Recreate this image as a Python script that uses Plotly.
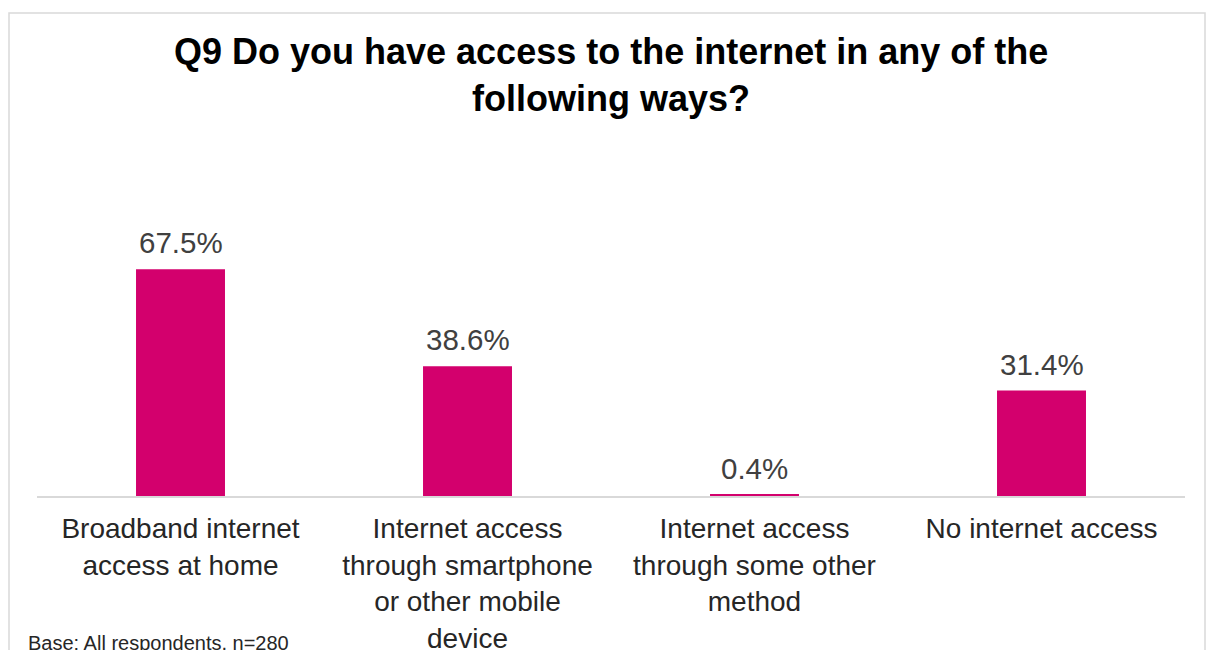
import plotly.graph_objects as go

categories = [
    "Broadband internet<br>access at home",
    "Internet access<br>through smartphone<br>or other mobile<br>device",
    "Internet access<br>through some other<br>method",
    "No internet access",
]
values = [67.5, 38.6, 0.4, 31.4]
value_labels = ["67.5%", "38.6%", "0.4%", "31.4%"]

BAR = "#D3006D"
FONT = "Liberation Sans, Arial, sans-serif"
W, H = 1208, 650
L, R, T, B = 37, 23, 160, 154
pw = W - L - R
ph = H - T - B

def px_x(px):
    return (px - L) / pw

def px_y(py):
    return (H - B - py) / ph

fig = go.Figure(
    go.Bar(
        x=categories,
        y=values,
        marker=dict(color=BAR, line=dict(width=0)),
        width=0.31,
        cliponaxis=False,
        hoverinfo="skip",
    )
)

annotations = [
    dict(
        x=c,
        y=v,
        xref="x",
        yref="y",
        text=t,
        showarrow=False,
        xanchor="center",
        yanchor="bottom",
        yshift=8,
        font=dict(family=FONT, size=29.5, color="#404040"),
    )
    for c, v, t in zip(categories, values, value_labels)
]

annotations += [
    dict(
        text="<b>Q9 Do you have access to the internet in any of the<br>following ways?</b>",
        xref="paper",
        yref="paper",
        x=0.5,
        y=px_y(29),
        xanchor="center",
        yanchor="top",
        showarrow=False,
        font=dict(family=FONT, size=36, color="#000000"),
    ),
    dict(
        text="Base: All respondents, n=280",
        xref="paper",
        yref="paper",
        x=px_x(26),
        y=px_y(630),
        xanchor="left",
        yanchor="top",
        showarrow=False,
        font=dict(family=FONT, size=20, color="#262626"),
    ),
]

fig.update_layout(
    width=W,
    height=H,
    margin=dict(l=L, r=R, t=T, b=B, pad=0),
    paper_bgcolor="white",
    plot_bgcolor="white",
    showlegend=False,
    font=dict(family=FONT, color="#262626"),
    xaxis=dict(
        showline=True,
        linecolor="#D9D9D9",
        linewidth=1.5,
        showgrid=False,
        ticks="outside",
        ticklen=7,
        tickcolor="rgba(0,0,0,0)",
        tickfont=dict(family=FONT, size=28, color="#262626"),
        automargin=False,
        fixedrange=True,
    ),
    yaxis=dict(
        range=[0, 100],
        visible=False,
        automargin=False,
        fixedrange=True,
    ),
    shapes=[
        dict(
            type="rect",
            xref="paper",
            yref="paper",
            x0=px_x(9),
            x1=px_x(1205),
            y0=px_y(680),
            y1=px_y(13),
            line=dict(color="#D9D9D9", width=1.5),
            fillcolor="rgba(0,0,0,0)",
            layer="below",
        )
    ],
    annotations=annotations,
)

fig.write_html("out.html")
